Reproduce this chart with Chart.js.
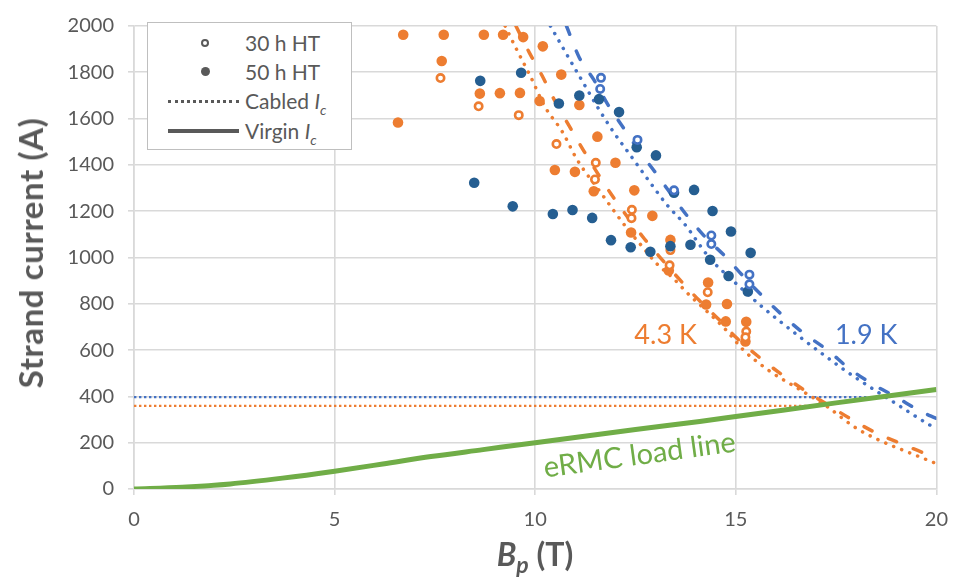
<!DOCTYPE html>
<html>
<head>
<meta charset="utf-8">
<script src="https://cdn.jsdelivr.net/npm/chart.js@4"></script>
<style>
  body { margin: 0; background: #fff; }
  #wrap { position: relative; width: 961px; height: 582px; font-family: Lato, sans-serif; color: #595959; }
  #chart { position: absolute; left: 0; top: 0; }
  #legend { position: absolute; left: 147px; top: 22px; width: 205px; height: 128px; box-sizing: border-box;
            border: 1.5px solid #bfbfbf; background: #fff; }
  .row { position: absolute; left: 0; width: 100%; height: 28px; }
  .txt { position: absolute; left: 97px; top: 0; font-size: 21px; line-height: 28px; white-space: nowrap; }
  .txt sub { font-size: 14px; vertical-align: -6px; line-height: 0; }
  .open { position: absolute; left: 53px; top: 10px; width: 4px; height: 4px; border: 2.5px solid #595959; border-radius: 50%; }
  .fill { position: absolute; left: 53px; top: 9px; width: 9px; height: 9px; background: #595959; border-radius: 50%; }
  .dot  { position: absolute; left: 20px; top: 13px; width: 71px; height: 0; border-top: 3px dotted #595959; }
  .solid{ position: absolute; left: 20px; top: 12px; width: 71px; height: 4px; background: #595959; }
  #ytitle { position: absolute; left: 30px; top: 253px; transform: translate(-50%, -50%) rotate(-90deg);
            font-size: 33px; letter-spacing: 0.6px; font-weight: bold; white-space: nowrap; }
  #xtitle { position: absolute; left: 535px; top: 553px; transform: translate(-50%, -50%);
            font-size: 32px; font-weight: bold; white-space: nowrap; }
  #xtitle sub { font-size: 23px; vertical-align: -7px; line-height: 0; }
</style>
</head>
<body>
<div id="wrap">
  <canvas id="chart" width="961" height="582"></canvas>
  <div id="legend">
    <div class="row" style="top:6px"><div class="open"></div><div class="txt">30 h HT</div></div>
    <div class="row" style="top:35px"><div class="fill"></div><div class="txt">50 h HT</div></div>
    <div class="row" style="top:64px"><div class="dot"></div><div class="txt">Cabled <i>I</i><sub><i>c</i></sub></div></div>
    <div class="row" style="top:94px"><div class="solid"></div><div class="txt">Virgin <i>I</i><sub><i>c</i></sub></div></div>
  </div>
  <div id="ytitle">Strand current (A)</div>
  <div id="xtitle"><i>B<sub>p</sub></i> (T)</div>
</div>
<script>
// Colours
const BLUE_DARK = '#255e91';
const BLUE = '#4472c4';
const ORANGE = '#ed7d31';
const GREEN = '#70ad47';
const GREY = '#595959';

// Axis ticks
const xTicks = [0, 5, 10, 15, 20];
const yTicks = [0, 200, 400, 600, 800, 1000, 1200, 1400, 1600, 1800, 2000];

// Measured strand currents, 1.9 K, 50 h heat treatment
const b50x = [8.48, 8.63, 9.44, 9.65, 10.44, 10.59, 10.93, 11.10, 11.42, 11.59, 11.89, 12.09, 12.38, 12.53, 12.87, 13.01, 13.37, 13.46, 13.87, 13.96, 14.36, 14.42, 14.82, 14.88, 15.30, 15.37];
const b50y = [1323, 1763, 1221, 1798, 1188, 1665, 1205, 1700, 1171, 1684, 1075, 1628, 1044, 1476, 1025, 1441, 1049, 1280, 1055, 1292, 990, 1201, 920, 1112, 853, 1020];

// 1.9 K, 30 h heat treatment
const b30x = [11.62, 11.64, 12.55, 13.46, 14.39, 14.39, 15.34, 15.34];
const b30y = [1728, 1776, 1508, 1290, 1095, 1058, 926, 884];

// 4.3 K, 50 h heat treatment
const o50x = [6.58, 6.71, 7.67, 7.72, 8.62, 8.72, 9.12, 9.20, 9.62, 9.70, 10.11, 10.19, 10.49, 10.65, 10.99, 11.10, 11.46, 11.55, 12.00, 12.39, 12.47, 12.92, 13.37, 13.33, 14.26, 14.31, 14.75, 14.78, 15.26, 15.24];
const o50y = [1583, 1962, 1849, 1962, 1708, 1962, 1710, 1962, 1711, 1952, 1676, 1912, 1378, 1790, 1370, 1659, 1286, 1522, 1409, 1108, 1290, 1180, 1076, 944, 797, 892, 724, 799, 722, 637];

// 4.3 K, 30 h heat treatment
const o30x = [7.64, 8.59, 9.59, 10.53, 11.51, 11.49, 12.41, 12.40, 13.37, 13.35, 14.30, 15.26, 15.24];
const o30y = [1775, 1653, 1615, 1490, 1409, 1337, 1206, 1170, 1032, 966, 850, 680, 655];

// Virgin Ic, 1.9 K
const bVirginX = [10.78, 11.10, 11.46, 11.83, 12.20, 12.60, 13.00, 13.80, 14.24, 14.74, 15.17, 15.70, 16.20, 16.70, 17.30, 17.80, 18.40, 19.00, 19.60, 20.00];
const bVirginY = [2000, 1863, 1768, 1655, 1560, 1458, 1366, 1177, 1088, 1004, 922, 827, 745, 672, 598, 524, 454, 397, 336, 305];

// Cabled Ic, 1.9 K
const bCabledX = [10.38, 10.74, 11.15, 11.56, 11.98, 12.35, 12.83, 13.31, 13.72, 14.35, 14.90, 15.67, 16.59, 17.50, 17.91, 19.00, 19.85, 20.00];
const bCabledY = [2000, 1891, 1769, 1648, 1535, 1447, 1332, 1222, 1145, 997, 905, 785, 658, 540, 490, 368, 275, 262];

// Virgin Ic, 4.3 K
const oVirginX = [9.52, 9.86, 10.17, 10.47, 10.85, 11.21, 11.90, 12.72, 13.15, 13.62, 14.08, 14.58, 15.01, 15.60, 16.15, 16.74, 17.30, 17.90, 18.50, 19.16, 19.82, 20.00];
const oVirginY = [2000, 1883, 1786, 1683, 1567, 1461, 1272, 1081, 993, 901, 816, 732, 654, 567, 494, 423, 363, 299, 242, 193, 147, 137];

// Cabled Ic, 4.3 K
const oCabledX = [9.25, 9.51, 9.88, 10.24, 10.68, 11.04, 11.66, 12.27, 12.64, 13.02, 13.43, 13.80, 14.26, 14.76, 15.18, 15.84, 16.59, 17.25, 18.00, 18.62, 19.41, 19.95];
const oCabledY = [2000, 1908, 1783, 1652, 1542, 1424, 1274, 1130, 1053, 975, 912, 845, 771, 686, 602, 510, 430, 359, 263, 207, 151, 113];

// Quench current levels (load line crossing)
const bQuenchX = [0, 18.8];
const bQuenchY = [397, 397];
const oQuenchX = [0, 17.1];
const oQuenchY = [359, 359];

// eRMC magnet load line
const loadX = [0, 1.2, 2.4, 3.7, 5.0, 6.2, 7.4, 8.7, 10.0, 12.5, 14.1, 15.0, 17.5, 20.0];
const loadY = [0, 8, 22, 47, 77, 108, 140, 170, 200, 257, 292, 313, 372, 430];

const pts = (xs, ys) => xs.map((x, i) => ({ x, y: ys[i] }));

function markers(xs, ys, color, open, order) {
  return {
    data: pts(xs, ys), showLine: false, order,
    pointRadius: open ? 3.7 : 5.3,
    pointBorderWidth: open ? 2.6 : 0,
    pointBackgroundColor: open ? '#fff' : color,
    pointBorderColor: color
  };
}
function curve(xs, ys, color, width, dash, cap, order) {
  return {
    data: pts(xs, ys), showLine: true, order,
    borderColor: color, borderWidth: width, borderDash: dash, borderCapStyle: cap,
    pointRadius: 0, cubicInterpolationMode: 'monotone', fill: false
  };
}

const curveLabels = {
  id: 'curveLabels',
  afterDatasetsDraw(chart) {
    const { ctx, scales: { x, y } } = chart;
    ctx.save();
    ctx.font = '27px Lato';
    ctx.textAlign = 'center';
    ctx.textBaseline = 'middle';
    ctx.fillStyle = ORANGE;
    ctx.fillText('4.3 K', x.getPixelForValue(13.25), y.getPixelForValue(664));
    ctx.fillStyle = BLUE;
    ctx.fillText('1.9 K', x.getPixelForValue(18.25), y.getPixelForValue(664));
    ctx.font = '29px Lato';
    ctx.translate(x.getPixelForValue(12.6), y.getPixelForValue(146));
    ctx.rotate(-7.8 * Math.PI / 180);
    ctx.fillStyle = GREEN;
    ctx.fillText('eRMC load line', 0, 0);
    ctx.restore();
  }
};

const tickFont = { family: 'Lato', size: 20 };

new Chart(document.getElementById('chart'), {
  type: 'scatter',
  data: {
    datasets: [
      markers(b30x, b30y, BLUE, true, 0),
      markers(b50x, b50y, BLUE_DARK, false, 0),
      markers(o30x, o30y, ORANGE, true, 0),
      markers(o50x, o50y, ORANGE, false, 0),
      curve(loadX, loadY, GREEN, 5, [], 'butt', 1),
      curve(bVirginX, bVirginY, BLUE, 3.5, [9, 18], 'round', 2),
      curve(bCabledX, bCabledY, BLUE, 3.5, [0.1, 8.5], 'round', 2),
      curve(oVirginX, oVirginY, ORANGE, 3.5, [9, 18], 'round', 2),
      curve(oCabledX, oCabledY, ORANGE, 3.5, [0.1, 8.5], 'round', 2),
      curve(bQuenchX, bQuenchY, BLUE, 2.4, [2.4, 2.6], 'butt', 3),
      curve(oQuenchX, oQuenchY, ORANGE, 2.4, [2.4, 2.6], 'butt', 3)
    ]
  },
  options: {
    responsive: false,
    animation: false,
    layout: { padding: { left: 0, right: 24, top: 16, bottom: 0 } },
    plugins: { legend: { display: false }, tooltip: { enabled: false } },
    scales: {
      x: {
        type: 'linear', min: 0, max: 20,
        afterBuildTicks(s) { s.ticks = xTicks.map(v => ({ value: v })); },
        afterFit(s) { s.height = 93; },
        ticks: { color: GREY, font: tickFont, padding: 13, callback: v => String(v) },
        grid: { color: '#d9d9d9', lineWidth: 1.6, tickLength: 6 },
        border: { color: '#d9d9d9', width: 1.6 }
      },
      y: {
        type: 'linear', min: 0, max: 2000,
        afterBuildTicks(s) { s.ticks = yTicks.map(v => ({ value: v })); },
        afterFit(s) { s.width = 134; },
        ticks: { color: GREY, font: tickFont, padding: 14, callback: v => String(v) },
        grid: { color: '#d9d9d9', lineWidth: 1.6, tickLength: 6 },
        border: { color: '#d9d9d9', width: 1.6 }
      }
    }
  },
  plugins: [curveLabels]
});
</script>
</body>
</html>
